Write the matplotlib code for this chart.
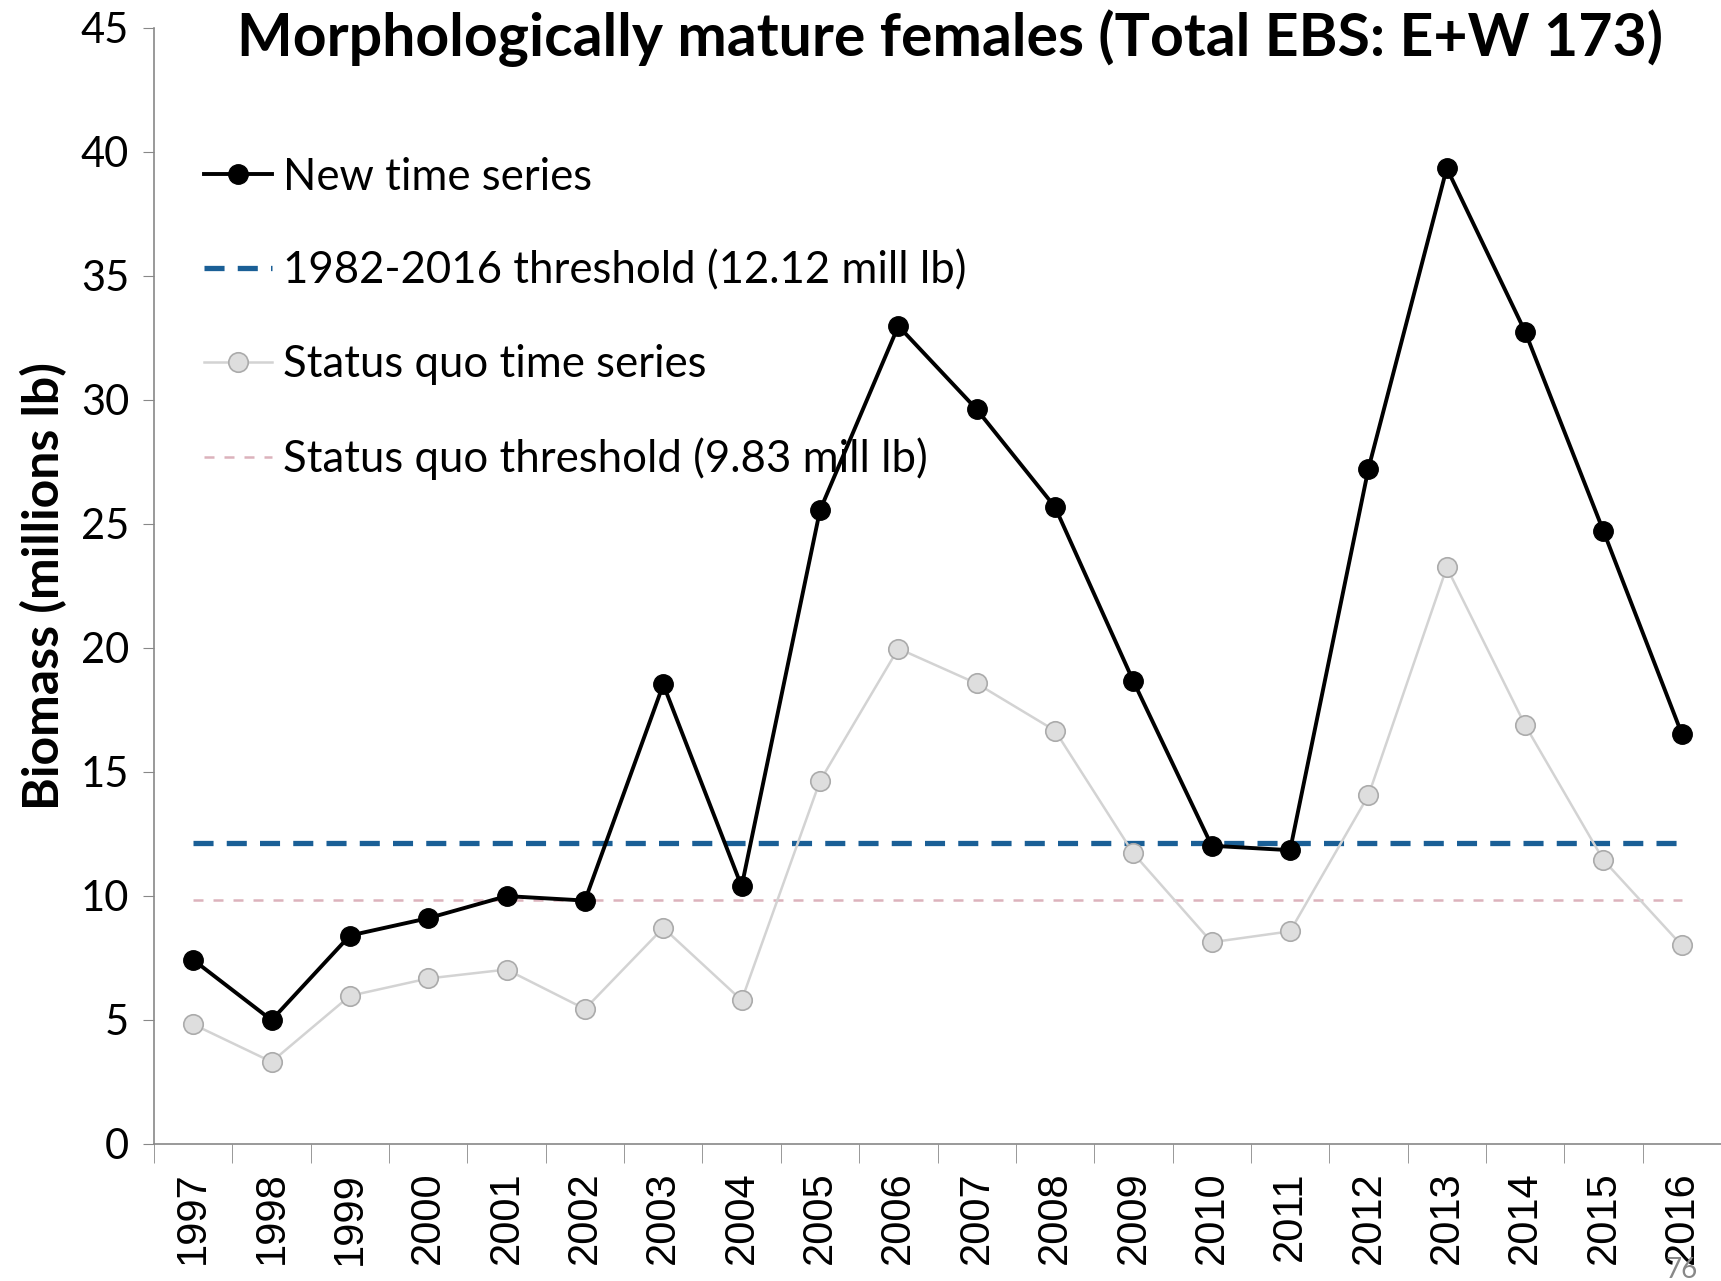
import matplotlib.pyplot as plt

# Mature female biomass, millions of lb
years = [str(y) for y in range(1997, 2017)]
new_series = [7.42, 4.99, 8.40, 9.10, 9.99, 9.81, 18.52, 10.38, 25.54, 32.97,
              29.61, 25.67, 18.65, 12.02, 11.84, 27.22, 39.33, 32.74, 24.70, 16.53]
status_quo = [4.82, 3.31, 5.97, 6.67, 7.03, 5.44, 8.71, 5.79, 14.63, 19.97,
              18.56, 16.66, 11.71, 8.13, 8.57, 14.05, 23.24, 16.88, 11.44, 8.00]
new_threshold = 12.12
sq_threshold = 9.83

plt.rcParams['font.family'] = ['Lato', 'DejaVu Sans']

fig = plt.figure(figsize=(17.21, 12.81), dpi=100)
ax = fig.add_axes([0.0895, 0.107, 0.9105, 0.8715])

x = list(range(len(years)))

line_new, = ax.plot(x, new_series, color='black', lw=2.8, marker='o', ms=14,
                    mfc='black', mec='black', zorder=5, label='New time series')
line_thr, = ax.plot([x[0], x[-1]], [new_threshold] * 2, color='#1a5f96', lw=3.8,
                    dashes=(3.8, 2.5), zorder=3, label='1982-2016 threshold (12.12 mill lb)')
line_sq, = ax.plot(x, status_quo, color='#d3d3d3', lw=1.8, marker='o', ms=14,
                   mfc='#dedede', mec='#ababab', mew=1.2, zorder=4,
                   label='Status quo time series')
line_sqt, = ax.plot([x[0], x[-1]], [sq_threshold] * 2, color='#dcb2bc', lw=1.8,
                    dashes=(4, 4), zorder=2, label='Status quo threshold (9.83 mill lb)')

ax.set_xlim(-0.5, len(years) - 0.5)
ax.set_ylim(0, 45)
ax.set_yticks(range(0, 46, 5))
ax.tick_params(axis='y', labelsize=30, length=8, color='#888888', pad=10)

# category labels centred, tick marks on the boundaries
ax.set_xticks(x)
ax.set_xticklabels(years, rotation=90, fontsize=30, family=['Liberation Sans'])
ax.tick_params(axis='x', which='major', length=0, pad=20)
ax.set_xticks([i - 0.5 for i in range(len(years) + 1)], minor=True)
ax.tick_params(axis='x', which='minor', length=14, color='#888888')

for side in ['top', 'right']:
    ax.spines[side].set_visible(False)
for side in ['left', 'bottom']:
    ax.spines[side].set_color('#888888')
    ax.spines[side].set_linewidth(1.2)

ax.set_ylabel('Biomass (millions lb)', fontsize=36, fontweight='bold', labelpad=10)
fig.text(0.552, 0.97, 'Morphologically mature females (Total EBS: E+W 173)',
         fontsize=42.5, fontweight='bold', ha='center', va='center')

ax.legend(handles=[line_new, line_thr, line_sq, line_sqt], loc='upper left',
          bbox_to_anchor=(0.021, 0.9), frameon=False, fontsize=31.5,
          handlelength=1.55, handletextpad=0.25, labelspacing=1.2, borderaxespad=0)

fig.text(0.968, 0.002, '76', fontsize=20, color='#888888')

fig.savefig('out.png', dpi=100)
